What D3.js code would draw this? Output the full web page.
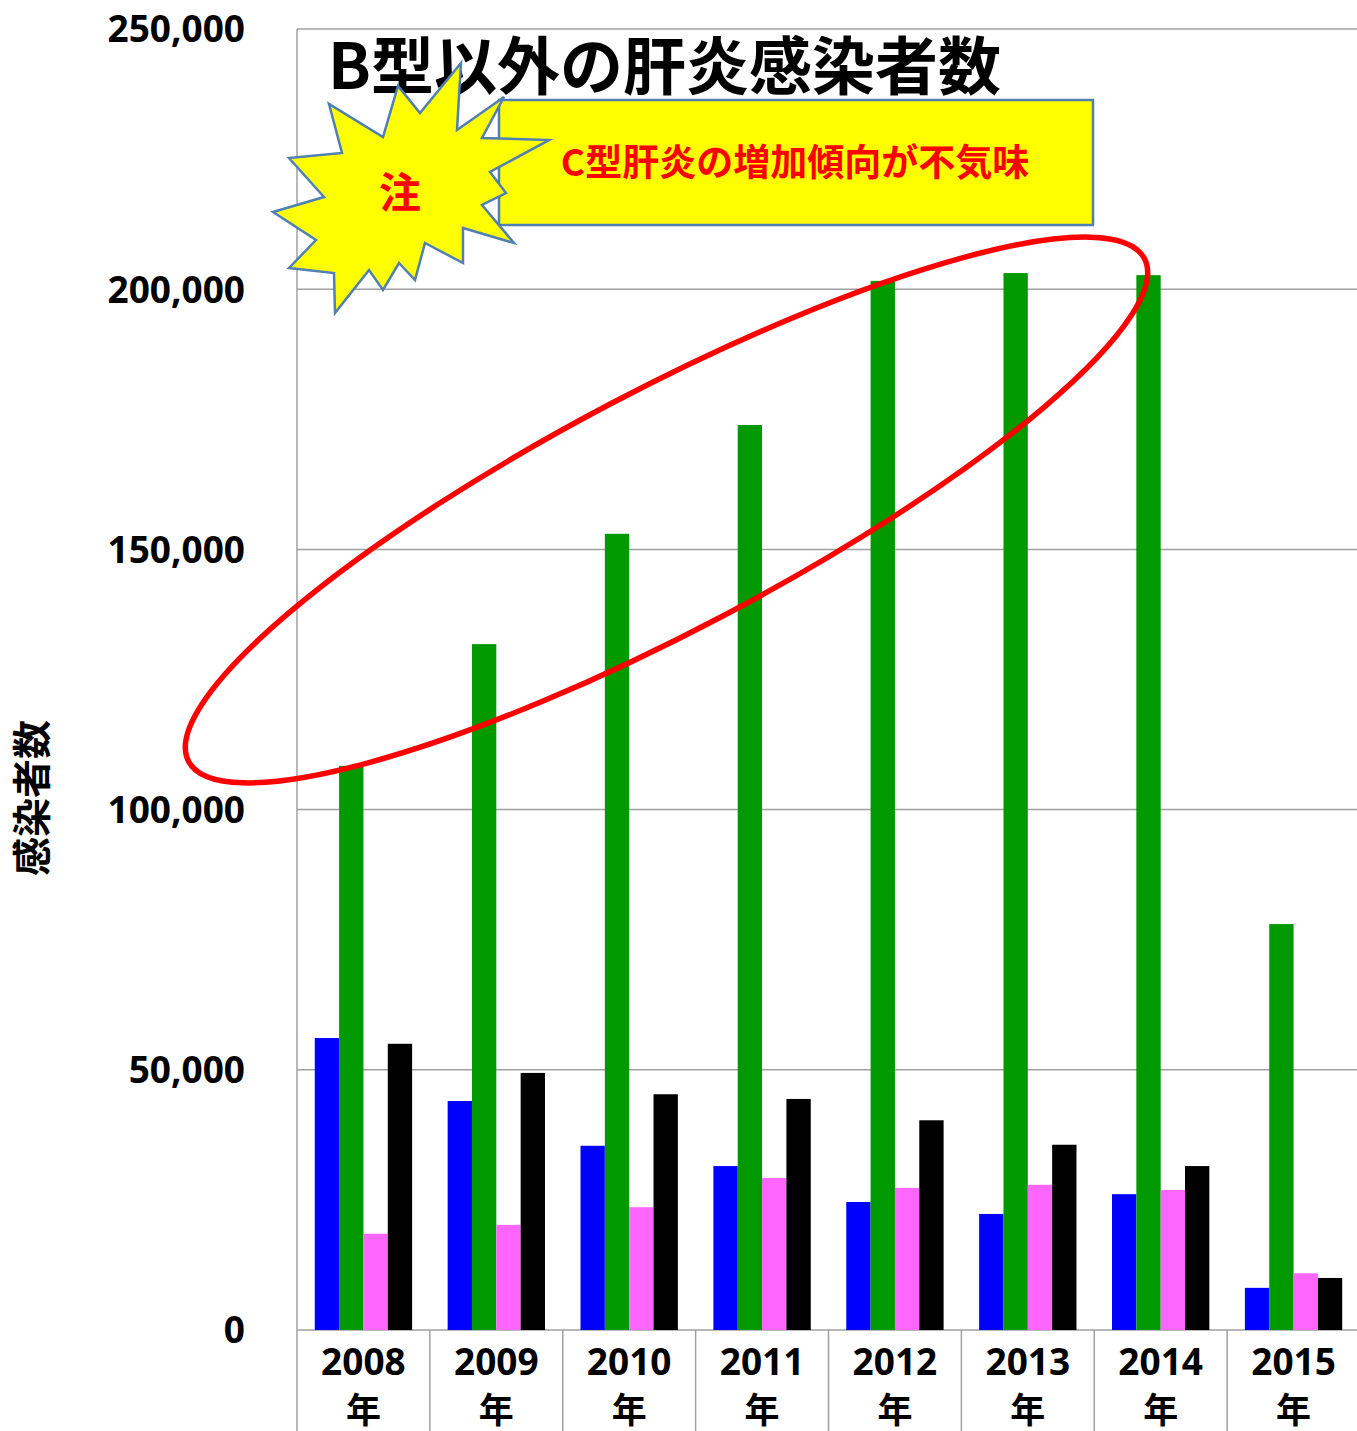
<!DOCTYPE html>
<html>
<head>
<meta charset="utf-8">
<script src="https://cdn.jsdelivr.net/npm/d3@7"></script>
<style>
  body { margin: 0; background: #fff; }
  svg { display: block; }
</style>
</head>
<body>
<svg width="1357" height="1431"></svg>
<script>
const years = ["2008", "2009", "2010", "2011", "2012", "2013", "2014", "2015"];
const seriesKeys = ["s1", "s2", "s3", "s4"];
const seriesColors = ["#0000ff", "#009900", "#ff66ff", "#000000"];
// values
const s1 = [56100, 44000, 35400, 31500, 24600, 22300, 26100, 8100];
const s2 = [108400, 131800, 153000, 173900, 201600, 203100, 202700, 78000];
const s3 = [18500, 20200, 23600, 29200, 27300, 27900, 26900, 10900];
const s4 = [55000, 49400, 45300, 44400, 40300, 35600, 31500, 10000];
const yTicks = [0, 50000, 100000, 150000, 200000, 250000];

const titleText = "B型以外の肝炎感染者数";
const noteText = "C型肝炎の増加傾向が不気味";
const starText = "注";
const yTitle = "感染者数";

const svg = d3.select("svg");
const margin = { top: 29, left: 297, right: 0, bottom: 101 };
const plotW = 1063;
const plotH = 1301;
const fontLatin = "'Noto Sans', 'Noto Sans CJK JP', sans-serif";
const fontCJK = "'Noto Sans CJK JP', 'Noto Sans', sans-serif";

const x0 = d3.scaleBand().domain(years).range([0, plotW]);
const x1 = d3.scaleBand().domain(seriesKeys).range([0, x0.bandwidth()]).paddingOuter(0.73);
const y = d3.scaleLinear().domain([0, 250000]).range([plotH, 0]);

const g = svg.append("g").attr("transform", `translate(${margin.left},${margin.top})`);

// gridlines
g.append("g")
  .selectAll("line")
  .data(yTicks)
  .join("line")
  .attr("x1", 0).attr("x2", plotW)
  .attr("y1", d => y(d)).attr("y2", d => y(d))
  .attr("stroke", "#a0a0a0").attr("stroke-width", 1.5);

// left axis line, down through the category area
g.append("line")
  .attr("x1", 0).attr("x2", 0)
  .attr("y1", 0).attr("y2", plotH + margin.bottom)
  .attr("stroke", "#a0a0a0").attr("stroke-width", 1.5);

// category separators below the axis
g.append("g")
  .selectAll("line")
  .data(years.slice(1))
  .join("line")
  .attr("x1", d => x0(d)).attr("x2", d => x0(d))
  .attr("y1", plotH).attr("y2", plotH + margin.bottom)
  .attr("stroke", "#a0a0a0").attr("stroke-width", 1.5);

// bars
const rows = years.map((yr, i) => ({ year: yr, vals: [s1[i], s2[i], s3[i], s4[i]] }));
const groups = g.append("g")
  .selectAll("g")
  .data(rows)
  .join("g")
  .attr("transform", d => `translate(${x0(d.year)},0)`);

groups.selectAll("rect")
  .data(d => d.vals.map((v, k) => ({ key: seriesKeys[k], v: v, c: seriesColors[k] })))
  .join("rect")
  .attr("x", d => x1(d.key))
  .attr("width", x1.bandwidth())
  .attr("y", d => y(d.v))
  .attr("height", d => plotH - y(d.v))
  .attr("fill", d => d.c);

// y tick labels
g.append("g")
  .selectAll("text")
  .data(yTicks)
  .join("text")
  .attr("x", -52)
  .attr("y", d => y(d))
  .attr("dy", "0.36em")
  .attr("text-anchor", "end")
  .attr("font-family", fontLatin)
  .attr("font-weight", "bold")
  .attr("font-size", 37)
  .text(d => d3.format(",")(d));

// x labels
const xl = g.append("g")
  .selectAll("g")
  .data(years)
  .join("g")
  .attr("transform", d => `translate(${x0(d) + x0.bandwidth() / 2},${plotH})`);
xl.append("text")
  .attr("y", 32).attr("dy", "0.36em")
  .attr("text-anchor", "middle")
  .attr("font-family", fontLatin).attr("font-weight", "bold").attr("font-size", 37)
  .text(d => d);
xl.append("text")
  .attr("y", 80).attr("dy", "0.36em")
  .attr("text-anchor", "middle")
  .attr("font-family", fontCJK).attr("font-weight", "bold").attr("font-size", 35)
  .text("年");

// y title
svg.append("text")
  .attr("transform", "translate(32,798) rotate(-90)")
  .attr("text-anchor", "middle")
  .attr("dy", "0.36em")
  .attr("font-family", fontCJK).attr("font-weight", "bold").attr("font-size", 39)
  .text(yTitle);

// chart title
svg.append("text")
  .attr("x", 328).attr("y", 89)
  .attr("font-family", fontCJK).attr("font-weight", "bold").attr("font-size", 63)
  .text(titleText);

// red ellipse
svg.append("ellipse")
  .attr("cx", 666.5).attr("cy", 510)
  .attr("rx", 540).attr("ry", 120)
  .attr("transform", "rotate(-27.75,666.5,510)")
  .attr("fill", "none")
  .attr("stroke", "#ff0000")
  .attr("stroke-width", 5.5);

// yellow note box
svg.append("rect")
  .attr("x", 499).attr("y", 100)
  .attr("width", 594).attr("height", 125)
  .attr("fill", "#ffff00")
  .attr("stroke", "#4f7fb3").attr("stroke-width", 2.5);
svg.append("text")
  .attr("x", 795).attr("y", 163).attr("dy", "0.36em")
  .attr("text-anchor", "middle")
  .attr("fill", "#ff0000")
  .attr("font-family", fontCJK).attr("font-weight", "bold").attr("font-size", 37)
  .text(noteText);

// starburst
const starPts = [
  [461, 63], [457, 130], [504, 97], [482, 138], [549, 140], [490, 172], [506, 193],
  [482, 205], [514, 243], [463, 228], [463, 263], [425, 243], [415, 280], [399, 263],
  [383, 290], [369, 270], [335, 313], [334, 273], [289, 268], [316, 240], [273, 212],
  [324, 197], [289, 158], [342, 153], [329, 104], [383, 137], [398, 86], [420, 113]
];
svg.append("path")
  .attr("d", d3.line()(starPts) + "Z")
  .attr("fill", "#ffff00")
  .attr("stroke", "#4f7fb3").attr("stroke-width", 2.5)
  .attr("stroke-linejoin", "miter");
svg.append("text")
  .attr("x", 400).attr("y", 193).attr("dy", "0.36em")
  .attr("text-anchor", "middle")
  .attr("fill", "#ff0000")
  .attr("font-family", fontCJK).attr("font-weight", "bold").attr("font-size", 42)
  .text(starText);
</script>
</body>
</html>
